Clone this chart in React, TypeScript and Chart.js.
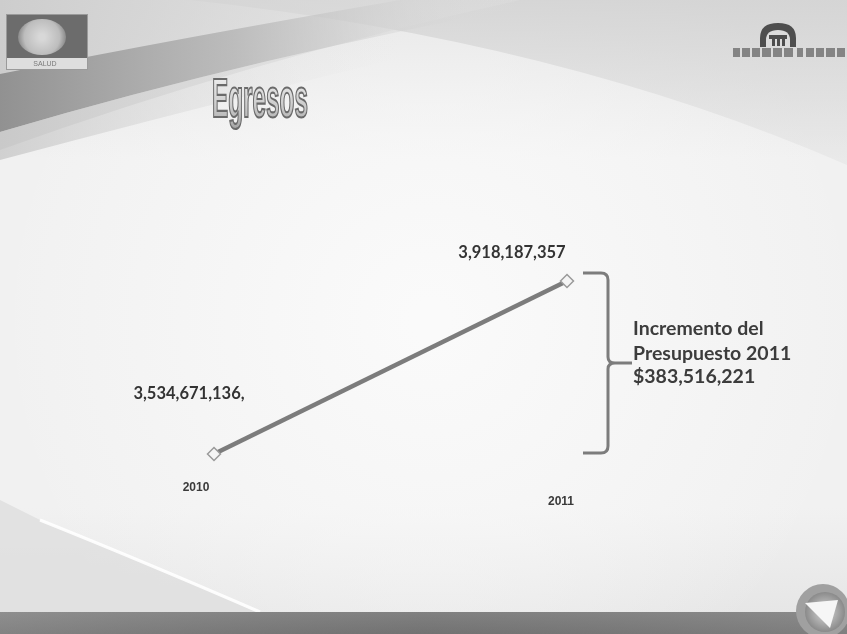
import React, { useEffect, useRef } from "react";
import { Chart, registerables } from "chart.js";
Chart.register(...registerables);

const years = ["2010", "2011"];
const egresos = [3534671136, 3918187357];
const valueLabels = ["3,534,671,136,", "3,918,187,357"];
const title = "Egresos";
const noteLines = ["Incremento del", "Presupuesto 2011", "$383,516,221"];
const logoText = "SALUD";

const backgroundPlugin = {
  id: "slideBackground",
  beforeDraw(chart: any) {
    const { ctx, width: W, height: H } = chart;
    ctx.save();
    let g = ctx.createLinearGradient(0, 0, 0, H);
    g.addColorStop(0, "#e0e0e0");
    g.addColorStop(0.25, "#f1f1f1");
    g.addColorStop(0.8, "#f1f1f1");
    g.addColorStop(1, "#e4e4e4");
    ctx.fillStyle = g;
    ctx.fillRect(0, 0, W, H);

    const rg = ctx.createRadialGradient(430, 320, 20, 430, 320, 430);
    rg.addColorStop(0, "rgba(250,250,250,1)");
    rg.addColorStop(1, "rgba(250,250,250,0)");
    ctx.fillStyle = rg;
    ctx.fillRect(0, 0, W, H);

    // top-right swoosh
    ctx.beginPath();
    ctx.moveTo(190, 0);
    ctx.quadraticCurveTo(560, 40, 847, 165);
    ctx.lineTo(847, 0);
    ctx.closePath();
    let g2 = ctx.createLinearGradient(0, 0, 0, 160);
    g2.addColorStop(0, "rgba(212,212,212,0.9)");
    g2.addColorStop(1, "rgba(222,222,222,0.4)");
    ctx.fillStyle = g2;
    ctx.fill();

    // top-left wedge
    ctx.beginPath();
    ctx.moveTo(0, 0);
    ctx.lineTo(520, 0);
    ctx.quadraticCurveTo(250, 60, 0, 150);
    ctx.closePath();
    let g3 = ctx.createLinearGradient(0, 0, 500, 0);
    g3.addColorStop(0, "rgba(205,205,205,1)");
    g3.addColorStop(1, "rgba(225,225,225,0.3)");
    ctx.fillStyle = g3;
    ctx.fill();

    // darker band
    ctx.beginPath();
    ctx.moveTo(0, 74);
    ctx.quadraticCurveTo(180, 38, 400, 0);
    ctx.lineTo(560, 0);
    ctx.quadraticCurveTo(260, 55, 0, 132);
    ctx.closePath();
    let g4 = ctx.createLinearGradient(0, 0, 520, 0);
    g4.addColorStop(0, "rgba(145,145,145,1)");
    g4.addColorStop(0.45, "rgba(180,180,180,0.8)");
    g4.addColorStop(1, "rgba(225,225,225,0)");
    ctx.fillStyle = g4;
    ctx.fill();

    ctx.beginPath();
    ctx.moveTo(0, 132);
    ctx.quadraticCurveTo(260, 55, 560, 0);
    ctx.lineTo(640, 0);
    ctx.quadraticCurveTo(300, 80, 0, 160);
    ctx.closePath();
    let g5 = ctx.createLinearGradient(0, 0, 400, 0);
    g5.addColorStop(0, "rgba(200,200,200,0.8)");
    g5.addColorStop(1, "rgba(230,230,230,0)");
    ctx.fillStyle = g5;
    ctx.fill();

    // bottom-left area and streak
    ctx.beginPath();
    ctx.moveTo(0, 500);
    ctx.lineTo(40, 520);
    ctx.quadraticCurveTo(140, 560, 260, 612);
    ctx.lineTo(0, 612);
    ctx.closePath();
    ctx.fillStyle = "rgba(224,224,224,0.9)";
    ctx.fill();
    ctx.beginPath();
    ctx.moveTo(40, 520);
    ctx.quadraticCurveTo(140, 560, 260, 612);
    ctx.strokeStyle = "rgba(255,255,255,0.9)";
    ctx.lineWidth = 3;
    ctx.stroke();

    // bottom band
    let g6 = ctx.createLinearGradient(0, 612, 0, 634);
    g6.addColorStop(0, "#858585");
    g6.addColorStop(1, "#737373");
    ctx.fillStyle = g6;
    ctx.fillRect(0, 612, W, 22);
    let g7 = ctx.createLinearGradient(0, 0, W, 0);
    g7.addColorStop(0, "rgba(160,160,160,0.35)");
    g7.addColorStop(0.5, "rgba(110,110,110,0.2)");
    g7.addColorStop(1, "rgba(150,150,150,0.35)");
    ctx.fillStyle = g7;
    ctx.fillRect(0, 612, W, 22);

    // bottom-right icon
    ctx.beginPath();
    ctx.arc(823, 611, 27, 0, Math.PI * 2);
    ctx.fillStyle = "#a0a0a0";
    ctx.fill();
    ctx.beginPath();
    ctx.arc(825, 612, 20, 0, Math.PI * 2);
    const rg2 = ctx.createRadialGradient(825, 612, 2, 825, 612, 20);
    rg2.addColorStop(0, "#d0d0d0");
    rg2.addColorStop(1, "#8a8a8a");
    ctx.fillStyle = rg2;
    ctx.fill();
    ctx.beginPath();
    ctx.moveTo(805, 603);
    ctx.lineTo(838, 600);
    ctx.lineTo(830, 628);
    ctx.closePath();
    ctx.fillStyle = "#f6f6f6";
    ctx.fill();

    // left logo
    ctx.fillStyle = "#6c6c6c";
    ctx.fillRect(6, 14, 82, 44);
    const rg3 = ctx.createRadialGradient(42, 37, 3, 42, 37, 24);
    rg3.addColorStop(0, "#d8d8d8");
    rg3.addColorStop(0.7, "#bdbdbd");
    rg3.addColorStop(1, "#8a8a8a");
    ctx.beginPath();
    ctx.ellipse(42, 37, 24, 18, 0, 0, Math.PI * 2);
    ctx.fillStyle = rg3;
    ctx.fill();
    ctx.fillStyle = "#dedede";
    ctx.fillRect(6, 58, 82, 12);
    ctx.strokeStyle = "#9a9a9a";
    ctx.lineWidth = 1;
    ctx.strokeRect(6.5, 14.5, 81, 55);
    ctx.fillStyle = "#7a7a7a";
    ctx.font = '7px "Liberation Sans"';
    ctx.textAlign = "center";
    ctx.textBaseline = "middle";
    ctx.fillText(logoText, 45, 64);

    // right logo: dome + lettering bar
    ctx.beginPath();
    ctx.moveTo(760, 47);
    ctx.lineTo(760, 38);
    ctx.quadraticCurveTo(760, 23, 778, 23);
    ctx.quadraticCurveTo(796, 23, 796, 38);
    ctx.lineTo(796, 47);
    ctx.closePath();
    ctx.fillStyle = "#4e4e4e";
    ctx.fill();
    ctx.beginPath();
    ctx.moveTo(766, 47);
    ctx.lineTo(766, 40);
    ctx.quadraticCurveTo(766, 30, 778, 30);
    ctx.quadraticCurveTo(790, 30, 790, 40);
    ctx.lineTo(790, 47);
    ctx.closePath();
    ctx.fillStyle = "#dcdcdc";
    ctx.fill();
    ctx.fillStyle = "#4e4e4e";
    ctx.fillRect(769, 35, 18, 4);
    ctx.fillRect(772, 39, 3, 7);
    ctx.fillRect(777, 39, 3, 7);
    ctx.fillRect(782, 39, 3, 7);
    ctx.fillStyle = "#848484";
    const blocks = [[733, 7], [742, 8], [752, 8], [762, 9], [773, 9], [784, 9], [797, 6], [806, 8], [816, 8], [826, 9], [837, 8]];
    for (const [bx, bw] of blocks) ctx.fillRect(bx, 48, bw, 9);

    // title
    ctx.font = 'bold 56px "Liberation Sans"';
    const tw = ctx.measureText(title).width;
    ctx.save();
    ctx.translate(260, 117);
    ctx.scale(96 / tw, 1);
    ctx.textAlign = "center";
    ctx.textBaseline = "alphabetic";
    const tg = ctx.createLinearGradient(0, -40, 0, 10);
    tg.addColorStop(0, "#eeeeee");
    tg.addColorStop(0.6, "#cacaca");
    tg.addColorStop(1, "#a8a8a8");
    ctx.fillStyle = tg;
    ctx.fillText(title, 0, 0);
    ctx.lineWidth = 2.2;
    ctx.strokeStyle = "#6a6a6a";
    ctx.strokeText(title, 0, 0);
    ctx.restore();

    ctx.restore();
  },
};

const overlayPlugin = {
  id: "slideOverlay",
  afterDatasetsDraw(chart: any) {
    const { ctx, chartArea } = chart;
    const xs = chart.scales.x;
    const ys = chart.scales.y;
    ctx.save();

    const tickPos = [
      { dx: -18, dy: 34 },
      { dx: -6, dy: 48 },
    ];
    ctx.font = 'bold 12px "Liberation Sans"';
    ctx.fillStyle = "#3a3a3a";
    ctx.textAlign = "center";
    ctx.textBaseline = "middle";
    years.forEach((y, i) => {
      const px = xs.getPixelForValue(i);
      ctx.fillText(y, px + tickPos[i].dx, chartArea.bottom + tickPos[i].dy);
    });

    const lblPos = [
      { dx: -25, dy: -60 },
      { dx: -55, dy: -28 },
    ];
    ctx.font = 'bold 16.5px "Lato"';
    ctx.fillStyle = "#333333";
    valueLabels.forEach((t, i) => {
      const px = xs.getPixelForValue(i);
      const py = ys.getPixelForValue(egresos[i]);
      ctx.fillText(t, px + lblPos[i].dx, py + lblPos[i].dy);
    });

    const top = ys.getPixelForValue(egresos[1]) - 8;
    const bot = ys.getPixelForValue(egresos[0]) - 1;
    const mid = (top + bot) / 2;
    const bx = chartArea.right + 41;
    ctx.beginPath();
    ctx.moveTo(bx - 25, top);
    ctx.lineTo(bx - 7, top);
    ctx.quadraticCurveTo(bx, top, bx, top + 7);
    ctx.lineTo(bx, mid - 6);
    ctx.quadraticCurveTo(bx, mid, bx + 7, mid);
    ctx.lineTo(bx + 24, mid);
    ctx.moveTo(bx + 7, mid);
    ctx.quadraticCurveTo(bx, mid, bx, mid + 6);
    ctx.lineTo(bx, bot - 7);
    ctx.quadraticCurveTo(bx, bot, bx - 7, bot);
    ctx.lineTo(bx - 25, bot);
    ctx.lineWidth = 3;
    ctx.strokeStyle = "#7c7c7c";
    ctx.stroke();

    ctx.font = 'bold 19.5px "Lato"';
    ctx.fillStyle = "#3c3c3c";
    ctx.textAlign = "left";
    const ly = [mid - 34, mid - 9, mid + 14];
    noteLines.forEach((t, i) => ctx.fillText(t, bx + 25, ly[i]));

    ctx.restore();
  },
};

export default function App() {
  const ref = useRef<HTMLCanvasElement | null>(null);
  useEffect(() => {
    if (!ref.current) return;
    const chart = new Chart(ref.current, {
      type: "line",
      data: {
        labels: years,
        datasets: [
          {
            label: "Egresos",
            data: egresos,
            borderColor: "#7c7c7c",
            borderWidth: 4.5,
            pointStyle: "rectRot",
            pointRadius: 6.5,
            pointBackgroundColor: "#f4f4f4",
            pointBorderColor: "#9a9a9a",
            pointBorderWidth: 1.5,
            clip: false,
            tension: 0,
          } as any,
        ],
      },
      options: {
        responsive: false,
        animation: false,
        layout: { padding: { left: 214, right: 280, top: 281, bottom: 180 } },
        scales: {
          x: { type: "category", display: false },
          y: { display: false, min: Math.min(...egresos), max: Math.max(...egresos) },
        },
        plugins: { legend: { display: false }, tooltip: { enabled: false } },
      },
      plugins: [backgroundPlugin, overlayPlugin],
    });
    return () => chart.destroy();
  }, []);
  return (
    <div style={{ position: "fixed", left: 0, top: 0, width: 847, height: 634 }}>
      <canvas ref={ref} width={847} height={634} style={{ display: "block", width: 847, height: 634 }} />
    </div>
  );
}
